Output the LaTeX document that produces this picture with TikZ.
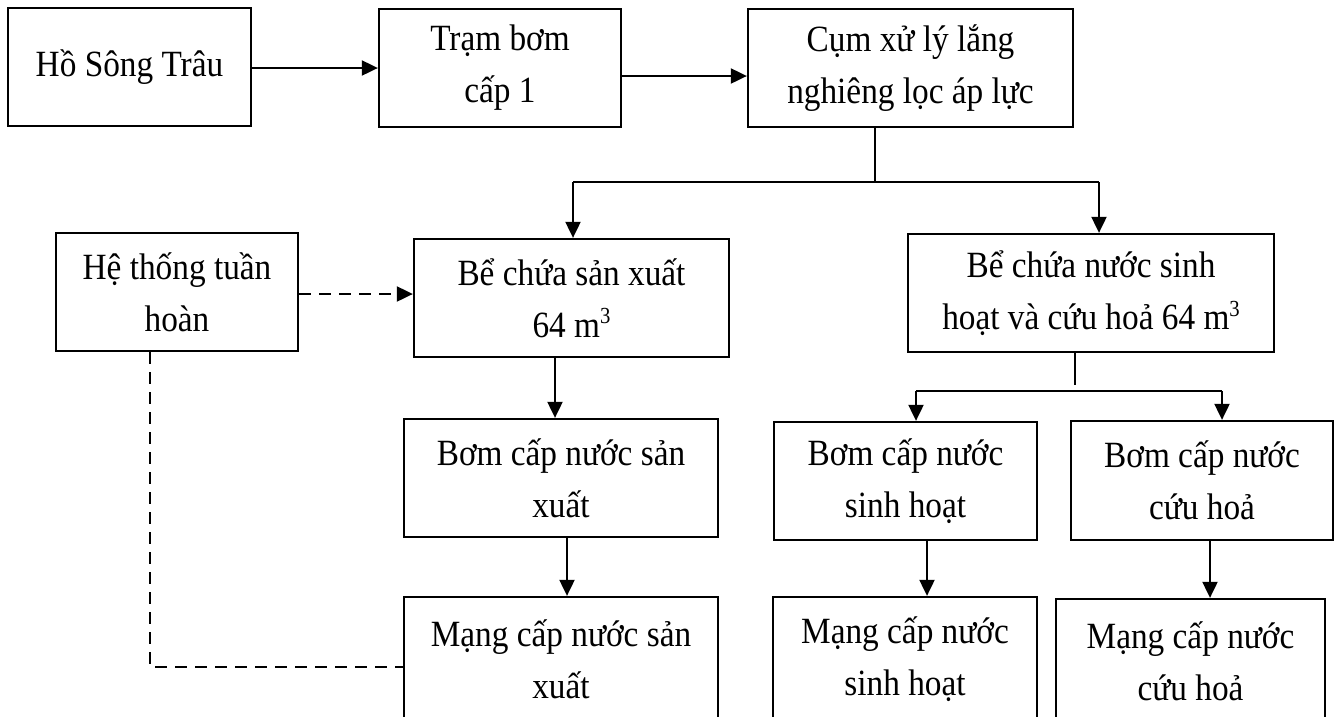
\documentclass[tikz,border=0pt]{standalone}
\usepackage{fontspec}
\setmainfont{Liberation Serif}[FakeStretch=0.9]
\usetikzlibrary{arrows.meta}
\newcommand{\cube}{\raisebox{0.36em}{\fontsize{23}{23}\selectfont 3}}
\begin{document}
\begin{tikzpicture}[x=1pt,y=-1pt,
  box/.style={draw, line width=2.3pt, inner sep=0pt, align=center,
    font=\fontsize{37}{52}\selectfont},
  link/.style={line width=2pt, line join=miter},
  arr/.style={link, -{Triangle[length=16pt,width=15pt]}},
  dashlink/.style={line width=2pt, dash pattern=on 12pt off 8pt},
  dasharr/.style={dashlink, -{Triangle[length=16pt,width=15pt]}}]
\useasboundingbox (0,0) rectangle (1341,716);
\clip (0,0) rectangle (1341,716);
\fill[white] (0,0) rectangle (1341,716);

% treatment line
\node[box, minimum width=243pt, minimum height=118pt] (A) at (129.5,67) {Hồ Sông Trâu};
\node[box, minimum width=242pt, minimum height=118pt] (B) at (500,68) {Trạm bơm\\cấp 1};
\node[box, minimum width=325pt, minimum height=118pt] (C) at (910.5,68) {Cụm xử lý lắng\\nghiêng lọc áp lực};

% storage tanks and recirculation
\node[box, minimum width=242pt, minimum height=118pt] (H) at (177,292) {Hệ thống tuần\\hoàn};
\node[box, minimum width=315pt, minimum height=118pt] (D) at (571.5,298) {Bể chứa sản xuất\\64 m\cube};
\node[box, minimum width=366pt, minimum height=118pt] (E) at (1091,293) {Bể chứa nước sinh\\hoạt và cứu hoả 64 m\cube};

% pumps
\node[box, minimum width=314pt, minimum height=118pt] (G) at (561,478) {Bơm cấp nước sản\\xuất};
\node[box, minimum width=263pt, minimum height=118pt] (I) at (905.5,481) {Bơm cấp nước\\sinh hoạt};
\node[box, minimum width=262pt, minimum height=119pt] (J) at (1202,480.5) {Bơm cấp nước\\cứu hoả};

% distribution networks
\node[box, minimum width=314pt, minimum height=124pt] (F) at (561,659) {Mạng cấp nước sản\\xuất};
\node[box, minimum width=264pt, minimum height=124pt] (K) at (905,659) {Mạng cấp nước\\sinh hoạt};
\node[box, minimum width=269pt, minimum height=124pt] (L) at (1190.5,661) {Mạng cấp nước\\cứu hoả};

% main flow
\draw[arr] ([yshift=-1pt]A.east) -- ([yshift=-1pt]A.east -| B.west);
\draw[arr] ([yshift=-8pt]B.east) -- ([yshift=-8pt]B.east -| C.west);

% split after treatment
\coordinate (s0) at (875,182);
\coordinate (sL) at (573,182);
\coordinate (sR) at (1099,182);
\draw[link] (C.south -| s0) -- (s0);
\draw[link] (sL) -- (sR);
\draw[arr] (sL) -- (sL |- D.north);
\draw[arr] (sR) -- (sR |- E.north);

% recirculation
\draw[dasharr] ([yshift=-2pt]H.east) -- ([yshift=-2pt]H.east -| D.west);
\draw[dashlink] ([xshift=-27pt]H.south) |- ([yshift=-8pt]F.west);

% production branch
\draw[arr] ([xshift=-16.5pt]D.south) -- ([xshift=-16.5pt]D.south |- G.north);
\draw[arr] ([xshift=6pt]G.south) -- ([xshift=6pt]G.south |- F.north);

% domestic and fire branch
\coordinate (t0) at (1075,385);
\coordinate (tL) at (916,391);
\coordinate (tR) at (1222,391);
\draw[link] (E.south -| t0) -- (t0);
\draw[link] (tL) -- (tR);
\draw[arr] (tL) -- (tL |- I.north);
\draw[arr] (tR) -- (tR |- J.north);
\draw[arr] ([xshift=21.5pt]I.south) -- ([xshift=21.5pt]I.south |- K.north);
\draw[arr] ([xshift=8pt]J.south) -- ([xshift=8pt]J.south |- L.north);
\end{tikzpicture}
\end{document}
